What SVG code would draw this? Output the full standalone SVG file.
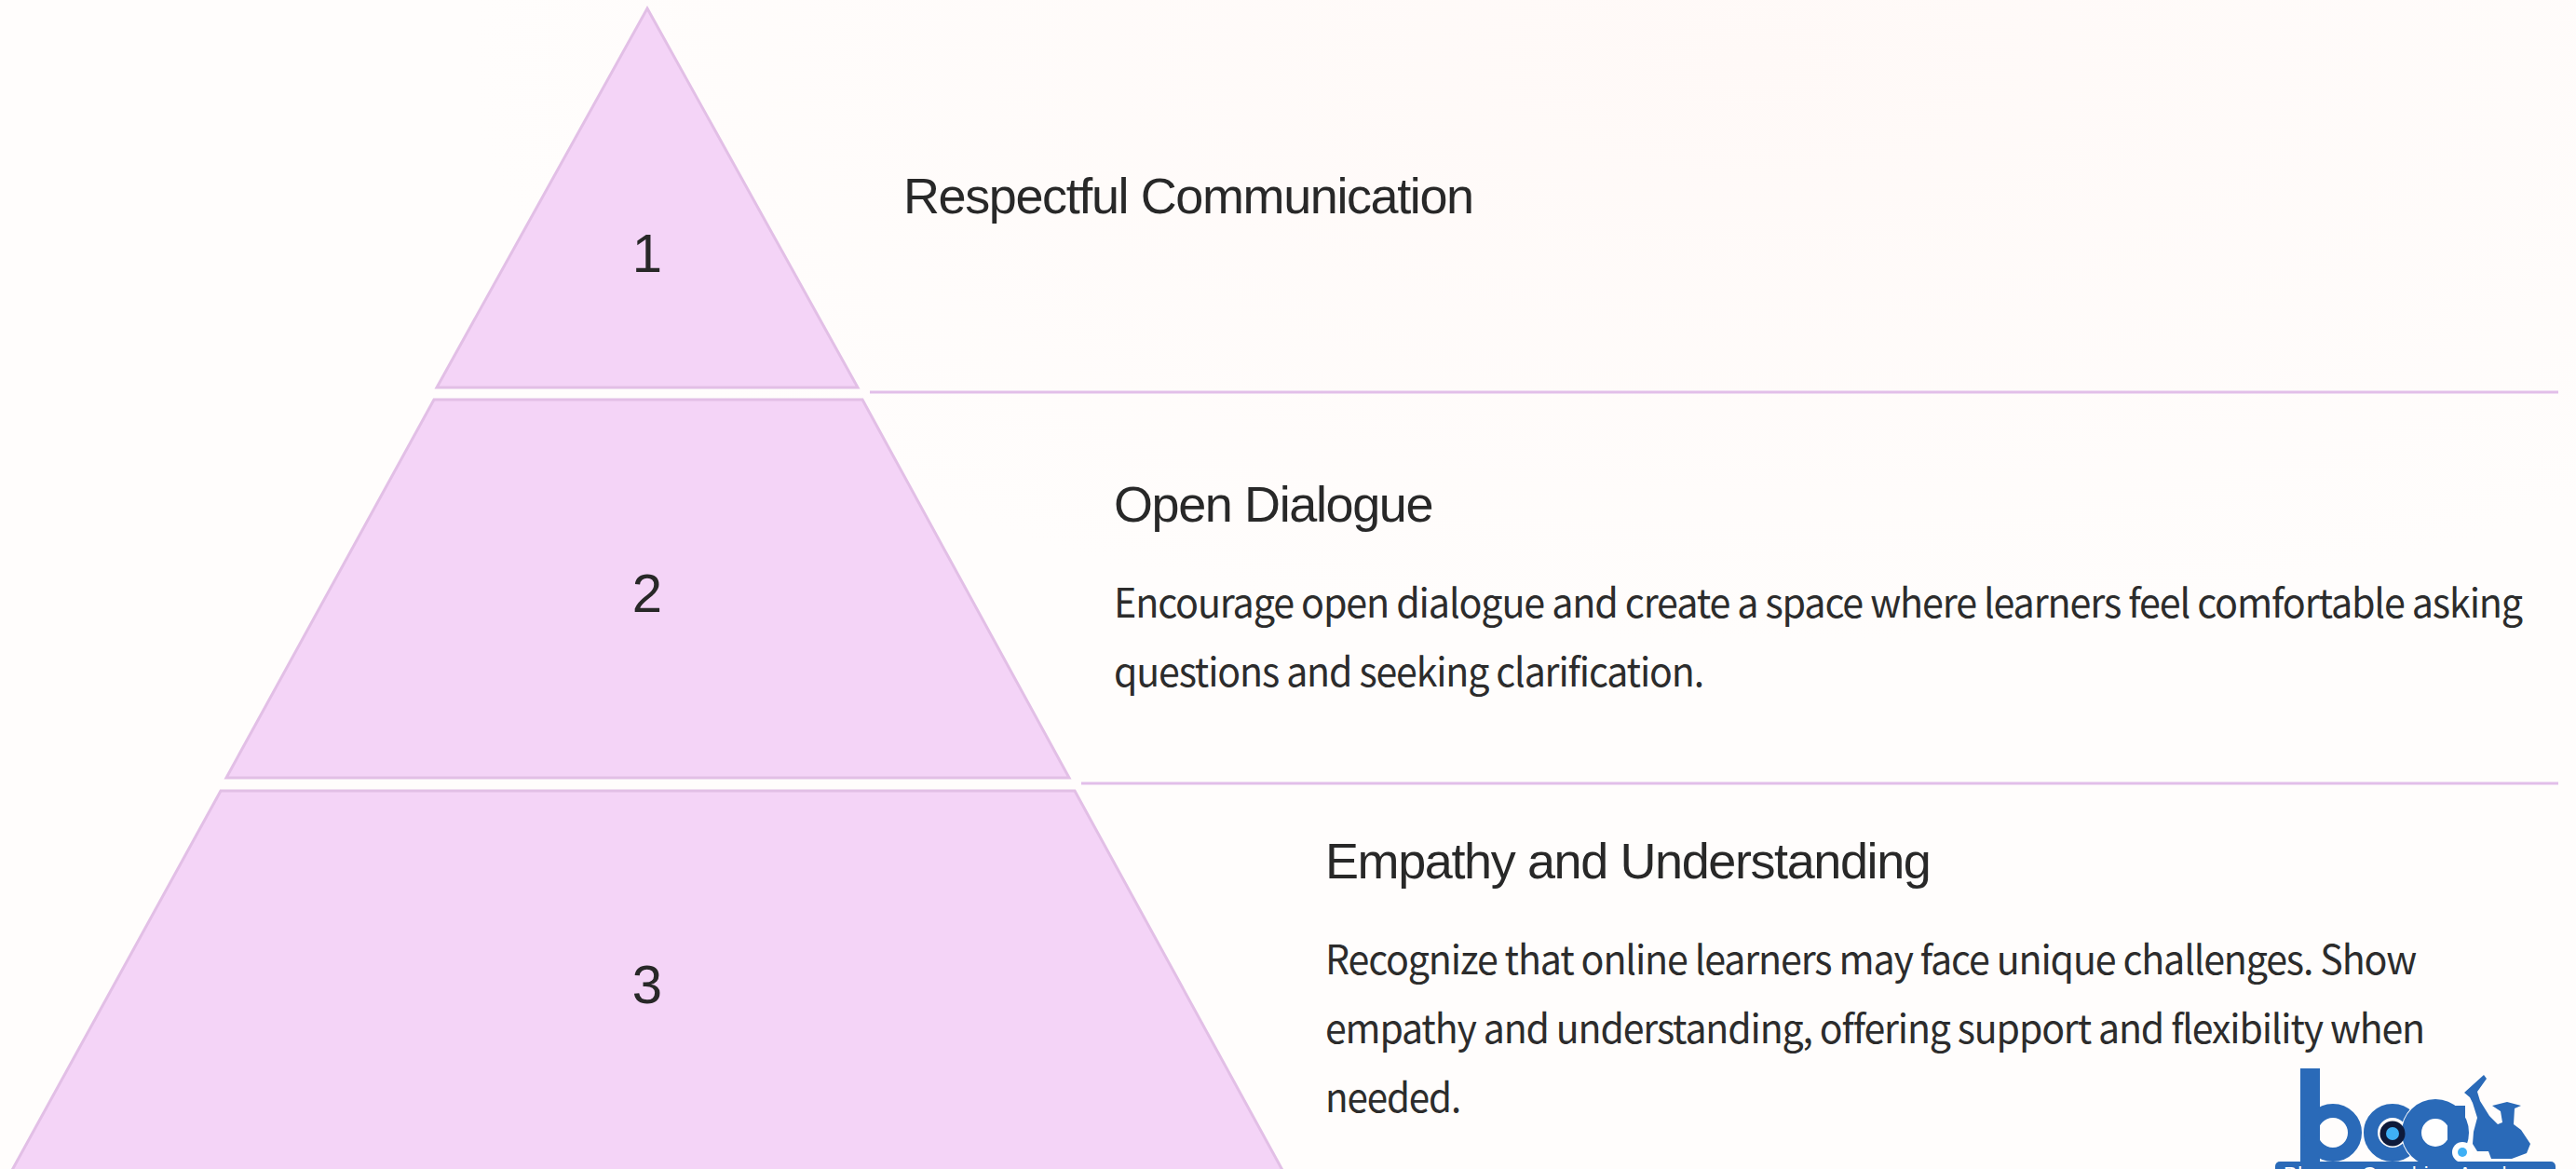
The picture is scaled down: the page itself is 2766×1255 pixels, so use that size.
<svg xmlns="http://www.w3.org/2000/svg" width="2766" height="1255" viewBox="0 0 2766 1255">
<defs>
<style>
.tier{fill:#f4d4f7;stroke:#e2bfe6;stroke-width:3;stroke-linejoin:miter}
.rule{stroke:#e2bfe9;stroke-width:3;fill:none}
.num{font-family:"Liberation Sans",Arial,sans-serif;font-size:58px;fill:#282828;text-anchor:middle}
.head{font-family:"Liberation Sans",Arial,sans-serif;font-size:54px;fill:#282828;letter-spacing:-1.4px}
.body{font-family:"Noto Sans CJK SC","Noto Sans",sans-serif;font-size:43px;fill:#2c2c2c;letter-spacing:-1.2px}
.logo{fill:#2a6ab8}
</style>
<radialGradient id="wash" cx="0.68" cy="0.05" r="0.5"><stop offset="0" stop-color="#fff9f7"/><stop offset="1" stop-color="#fffdfc"/></radialGradient>
</defs>
<rect width="2766" height="1255" fill="#fffdfb"/>
<rect width="2766" height="1255" fill="url(#wash)"/>
<g id="connectors">
<line class="rule" x1="934" y1="421" x2="2747" y2="421"/>
<line class="rule" x1="1161" y1="841" x2="2747" y2="841"/>
</g>
<g id="tier-1">
<polygon class="tier" points="695,9 921,416 469,416"/>
<text class="num" x="695" y="292">1</text>
<text class="head" x="970" y="229">Respectful Communication</text>
</g>
<g id="tier-2">
<polygon class="tier" points="466,429 926,429 1148,835 243,835"/>
<text class="num" x="695" y="657">2</text>
<text class="head" x="1196" y="560">Open Dialogue</text>
<text class="body" x="1196" y="663" textLength="1512" lengthAdjust="spacingAndGlyphs">Encourage open dialogue and create a space where learners feel comfortable asking</text>
<text class="body" x="1196" y="737" textLength="633" lengthAdjust="spacingAndGlyphs">questions and seeking clarification.</text>
</g>
<g id="tier-3">
<polygon class="tier" points="237,849 1154,849 1378,1258 12,1258"/>
<text class="num" x="695" y="1077">3</text>
<text class="head" x="1423" y="943">Empathy and Understanding</text>
<text class="body" x="1423" y="1046" textLength="1171" lengthAdjust="spacingAndGlyphs">Recognize that online learners may face unique challenges. Show</text>
<text class="body" x="1423" y="1120" textLength="1180" lengthAdjust="spacingAndGlyphs">empathy and understanding, offering support and flexibility when</text>
<text class="body" x="1423" y="1194" textLength="145" lengthAdjust="spacingAndGlyphs">needed.</text>
</g>
<g id="logo">
<rect class="logo" x="2470" y="1147" width="21" height="100"/>
<circle cx="2505" cy="1216" r="23.5" fill="none" stroke="#2a6ab8" stroke-width="15"/>
<circle cx="2569" cy="1216" r="23.5" fill="none" stroke="#2a6ab8" stroke-width="15"/>
<circle cx="2615" cy="1216" r="37" fill="#fff"/>
<circle cx="2615" cy="1216" r="25.5" fill="none" stroke="#2a6ab8" stroke-width="21"/>
<rect class="logo" x="2628" y="1187" width="19" height="60"/>
<circle cx="2569" cy="1217" r="13.5" fill="#0e1a3a"/>
<circle cx="2569" cy="1217" r="7" fill="#3fb0f5"/>
<circle cx="2644" cy="1237" r="11" fill="#fff"/>
<circle cx="2644" cy="1237" r="5" fill="#3fb0f5"/>
<path class="logo" d="M2646 1173L2667 1154L2670 1158L2660 1172L2663 1182L2673 1198L2682 1207L2687 1205L2685 1193L2676 1187L2692 1183L2707 1187L2700 1190L2699 1207L2707 1213L2717 1228L2713 1238L2697 1244L2675 1244L2672 1236L2660 1236L2655 1228L2656 1215L2660 1200L2655 1184L2652 1178Z"/>
<rect class="logo" x="2443" y="1247" width="301" height="12" rx="5"/>
<text x="2452" y="1268" font-family="'Liberation Sans',Arial,sans-serif" font-size="22" textLength="283" fill="#fff">Blooms Coaching Academy</text>
</g>
</svg>
